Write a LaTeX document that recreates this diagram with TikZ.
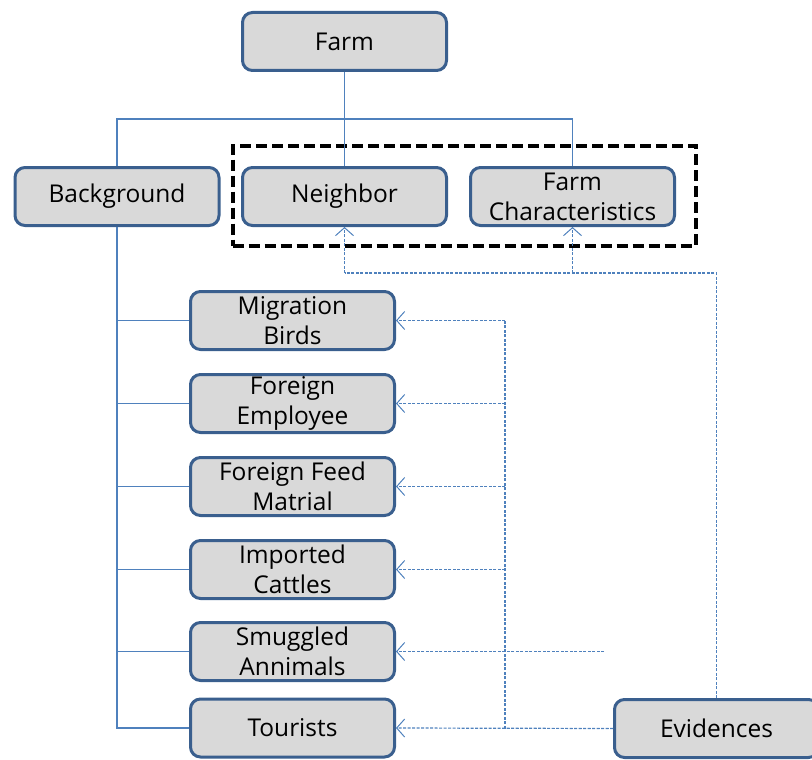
\documentclass[tikz,border=0pt]{standalone}
\usepackage{fontspec}
\setmainfont{Open Sans}
\usetikzlibrary{arrows.meta}
\definecolor{boxline}{HTML}{3A5F8E}
\definecolor{boxfill}{HTML}{D9D9D9}
\definecolor{connblue}{HTML}{4F81BD}
\tikzset{
  box/.style={draw=boxline, line width=3pt, fill=boxfill, rounded corners=10pt,
    minimum width=204pt, minimum height=58pt, inner sep=0pt, align=center,
    font=\fontsize{24.5}{30}\selectfont, text=black},
  conn/.style={draw=connblue, line width=1.2pt},
  dline/.style={draw=connblue, line width=1.2pt, dash pattern=on 3pt off 1.5pt},
  darr/.style={dline, -{Straight Barb[length=8pt,width=18pt,line width=1pt]}},
  group/.style={draw=black, line width=4pt, dash pattern=on 11pt off 5pt}
}
\begin{document}
\begin{tikzpicture}[x=1pt,y=-1pt]
\useasboundingbox (0,0) rectangle (812,760);
\node[group, minimum width=463pt, minimum height=100pt, inner sep=0pt] (grp) at (464,195.5) {};
\node[box] (farm) at (344.5,41.5) {Farm};
\node[box] (bg) at (117,196.5) {Background};
\node[box] (neigh) at (344.5,196.5) {Neighbor};
\node[box] (fc) at (572.5,196.5) {Farm\\Characteristics};
\node[box] (mig) at (292.5,320.5) {Migration\\Birds};
\node[box] (emp) at (292.5,403.5) {Foreign\\Employee};
\node[box] (feed) at (292.5,486.5) {Foreign Feed\\Matrial};
\node[box] (imp) at (292.5,569.5) {Imported\\Cattles};
\node[box] (smug) at (292.5,651.5) {Smuggled\\Annimals};
\node[box] (tour) at (292.5,728) {Tourists};
\node[box] (ev) at (716.5,728.5) {Evidences};
% tree connectors
\coordinate (jl) at (117,119);
\coordinate (jr) at (572.5,119);
\draw[conn] (farm.south) -- (neigh.north);
\draw[conn] (bg.north) -- (jl) -- (jr) -- (fc.north);
\foreach \n in {mig,emp,feed,imp,smug,tour}
  \draw[conn] (bg.south) |- (\n.west);
% evidence connectors
\coordinate (bus) at (505,320.5);
\coordinate (topbar) at (717,273);
\coordinate (smugEnd) at (604,651.5);
\draw[dline] (ev.west) -- (bus |- ev.west) -- (bus);
\draw[darr] (ev.west) -- (tour.east);
\draw[darr] (bus) -- (mig.east);
\foreach \n in {emp,feed,imp}
  \draw[darr] (bus |- \n.east) -- (\n.east);
\draw[darr] (smugEnd) -- (smug.east);
\draw[dline] (ev.north) -- (ev.north |- topbar) -- (neigh.south |- topbar);
\draw[darr] (neigh.south |- topbar) -- (neigh.south);
\draw[darr] (fc.south |- topbar) -- (fc.south);
\end{tikzpicture}
\end{document}
